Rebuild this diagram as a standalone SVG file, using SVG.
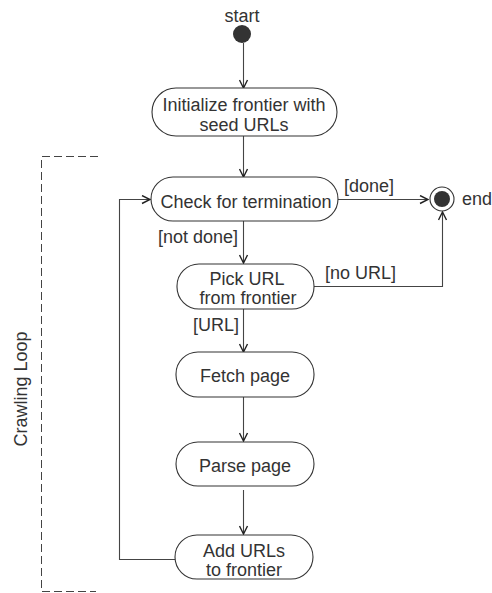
<svg xmlns="http://www.w3.org/2000/svg" width="492" height="593" viewBox="0 0 492 593">
<defs>
<marker id="arr" viewBox="0 0 10 10" refX="9" refY="5" markerWidth="10" markerHeight="10" markerUnits="userSpaceOnUse" orient="auto">
<path d="M1,1 L9,5 L1,9" fill="none" stroke="#222" stroke-width="1.4"/>
</marker>
<style>
text{font-family:"Liberation Sans",Arial,sans-serif;font-size:18px;fill:#333;}
.n{fill:#fff;stroke:#333;stroke-width:1.1;}
.c{fill:none;stroke:#444;stroke-width:1.1;}
.t{text-anchor:middle;}
</style>
</defs>
<rect width="492" height="593" fill="#fff"/>
<g id="frame">
<path d="M98,156.5 H41.5 V591.5 H96" fill="none" stroke="#444" stroke-width="1" stroke-dasharray="8,4"/>
<text transform="translate(27,389) rotate(-90)" class="t">Crawling Loop</text>
</g>
<g id="connectors">
<path class="c" d="M243.5,43 V88" marker-end="url(#arr)"/>
<path class="c" d="M243.5,136 V177" marker-end="url(#arr)"/>
<path class="c" d="M338,199.5 H428" marker-end="url(#arr)"/>
<path class="c" d="M243.5,221 V263" marker-end="url(#arr)"/>
<path class="c" d="M314,286.5 H442.5 V212" marker-end="url(#arr)"/>
<path class="c" d="M243.5,309 V352" marker-end="url(#arr)"/>
<path class="c" d="M243.5,397 V441" marker-end="url(#arr)"/>
<path class="c" d="M243.5,490 V534" marker-end="url(#arr)"/>
<path class="c" d="M175,559.5 H119.5 V199.5 H150" marker-end="url(#arr)"/>
<text x="344" y="192">[done]</text>
<text x="158" y="243">[not done]</text>
<text x="325" y="279">[no URL]</text>
<text x="193" y="331">[URL]</text>
</g>
<g id="start">
<text x="242" y="22" class="t">start</text>
<circle cx="242" cy="34" r="9" fill="#333"/>
</g>
<g id="init">
<rect class="n" x="152" y="88" width="185" height="48" rx="24"/>
<text x="244" y="111" class="t">Initialize frontier with</text>
<text x="244" y="131" class="t">seed URLs</text>
</g>
<g id="check">
<rect class="n" x="151" y="177" width="187" height="44" rx="22"/>
<text x="246" y="208" class="t">Check for termination</text>
</g>
<g id="end">
<circle cx="442" cy="199" r="12" fill="#fff" stroke="#333" stroke-width="1.1"/>
<circle cx="442" cy="199" r="8" fill="#333"/>
<text x="462" y="205">end</text>
</g>
<g id="pick">
<rect class="n" x="177" y="264" width="137" height="45" rx="22"/>
<text x="247" y="285" class="t">Pick URL</text>
<text x="248" y="304" class="t">from frontier</text>
</g>
<g id="fetch">
<rect class="n" x="176" y="352" width="138" height="45" rx="22"/>
<text x="245" y="382" class="t">Fetch page</text>
</g>
<g id="parse">
<rect class="n" x="176" y="442" width="138" height="44" rx="22"/>
<text x="245" y="472" class="t">Parse page</text>
</g>
<g id="add">
<rect class="n" x="175" y="535" width="138" height="44" rx="22"/>
<text x="244" y="557" class="t">Add URLs</text>
<text x="244" y="576" class="t">to frontier</text>
</g>
</svg>
